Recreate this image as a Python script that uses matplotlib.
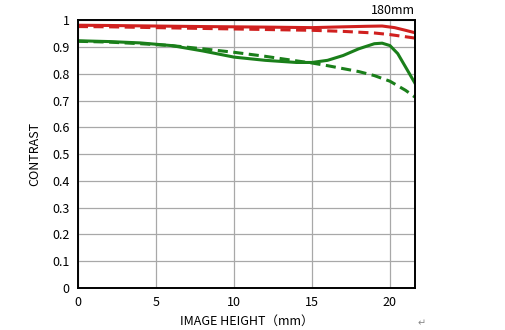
import matplotlib.pyplot as plt

plt.rcParams['font.family'] = ['Noto Sans CJK JP', 'DejaVu Sans']

# image height (mm) and contrast values
x_red = [0, 2, 5, 8, 10, 12, 15, 17, 18.5, 19.5, 20.3, 21, 21.6]
red_solid = [0.981, 0.980, 0.978, 0.976, 0.975, 0.974, 0.972, 0.975, 0.977, 0.978, 0.972, 0.962, 0.953]
x_red_d = [0, 2, 5, 8, 10, 12, 15, 17, 19, 20, 21, 21.6]
red_dash = [0.976, 0.975, 0.972, 0.969, 0.967, 0.965, 0.962, 0.958, 0.952, 0.946, 0.938, 0.933]

x_green = [0, 2, 4, 6, 8, 10, 12, 14, 15, 16, 17, 18, 19, 19.5, 20, 20.5, 21, 21.6]
green_solid = [0.923, 0.920, 0.915, 0.905, 0.885, 0.862, 0.850, 0.842, 0.842, 0.850, 0.868, 0.893, 0.912, 0.914, 0.905, 0.875, 0.825, 0.765]
x_green_d = [0, 2, 4, 6, 8, 10, 12, 14, 15, 16, 18, 19, 20, 21, 21.6]
green_dash = [0.921, 0.918, 0.912, 0.905, 0.893, 0.880, 0.865, 0.848, 0.840, 0.830, 0.808, 0.793, 0.772, 0.738, 0.713]

xticks = [0, 5, 10, 15, 20]
yticks = [0, 0.1, 0.2, 0.3, 0.4, 0.5, 0.6, 0.7, 0.8, 0.9, 1]
ytick_labels = ['0', '0.1', '0.2', '0.3', '0.4', '0.5', '0.6', '0.7', '0.8', '0.9', '1']

fig = plt.figure(figsize=(5.06, 3.30), dpi=100)
ax = fig.add_axes([0.154, 0.127, 0.666, 0.812])

red = '#d0201f'
green = '#1a7f1a'
dash = (0, (3.3, 1.8))
ax.plot(x_red, red_solid, color=red, lw=2.2)
ax.plot(x_red_d, red_dash, color=red, lw=2.2, ls=dash)
ax.plot(x_green, green_solid, color=green, lw=2.2)
ax.plot(x_green_d, green_dash, color=green, lw=2.2, ls=dash)

ax.set_xlim(0, 21.6)
ax.set_ylim(0, 1)
ax.set_xticks(xticks)
ax.set_yticks(yticks)
ax.set_yticklabels(ytick_labels)
ax.tick_params(length=0, labelsize=9, pad=6)
ax.grid(True, color='#a8a8a8', lw=0.9)
for s in ax.spines.values():
    s.set_linewidth(1.4)
    s.set_color('black')

ax.set_xlabel('IMAGE HEIGHT（mm）', fontsize=9, labelpad=4)
ax.set_ylabel('CONTRAST', fontsize=9, labelpad=8)
ax.text(1.0, 1.012, '180mm', transform=ax.transAxes, ha='right', va='bottom', fontsize=9)
fig.text(0.825, 0.01, '↵', fontsize=7, color='#888888', family=['DejaVu Sans'])

fig.savefig('out.png', dpi=100)
